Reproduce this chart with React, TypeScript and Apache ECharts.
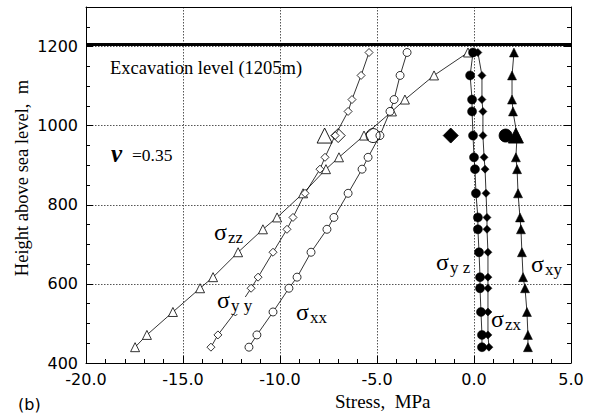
import React, { useEffect, useRef } from 'react';
import * as echarts from 'echarts';

// Heights (m) of the computed points
const heights = [1185, 1127, 1066, 1036, 975, 920, 890, 829, 768, 738, 680, 617, 589, 529, 471, 440];
// Computed stresses (MPa)
const sigmaZZ = [-0.31, -2.06, -3.56, -4.23, -5.67, -6.96, -7.63, -8.81, -10.15, -10.88, -12.16, -13.45, -14.12, -15.52, -16.86, -17.47];
const sigmaYY = [-5.41, -5.82, -6.29, -6.49, -7.16, -7.68, -7.94, -8.71, -9.33, -9.64, -10.36, -11.13, -11.49, -12.3, -13.2, -13.56];
const sigmaXX = [-3.45, -3.81, -4.12, -4.33, -4.85, -5.46, -5.77, -6.49, -7.22, -7.58, -8.4, -9.12, -9.54, -10.36, -11.19, -11.6];
const sigmaYZ = [-0.05, -0.2, -0.1, -0.1, -0.05, 0, 0.05, 0.1, 0.2, 0.2, 0.26, 0.31, 0.31, 0.36, 0.41, 0.41];
const sigmaZX = [0.2, 0.41, 0.41, 0.46, 0.46, 0.52, 0.57, 0.62, 0.67, 0.67, 0.72, 0.72, 0.72, 0.72, 0.72, 0.77];
const sigmaXY = [2.06, 1.96, 1.96, 2.01, 2.22, 2.16, 2.22, 2.27, 2.37, 2.42, 2.47, 2.53, 2.63, 2.73, 2.78, 2.78];

// Measured values at one level
const measuredHeight = 975;
const measuredZZ = -7.7;
const measuredYY = -7.0;
const measuredXX = -5.2;
const measuredYZ = 1.63;
const measuredZX = -1.2;
const measuredXY = 2.16;

const excavationLevel = 1205;

const xTicks = { min: -20, max: 5, interval: 5 };
const yTicks = { min: 400, max: 1300, interval: 200 };

const SERIF = '"Liberation Serif", "DejaVu Serif", serif';
const SANS = '"DejaVu Sans", "Open Sans", sans-serif';

const pairs = (xs: number[]) => xs.map((x, i) => [x, heights[i]]);

export default function App() {
  const ref = useRef<HTMLDivElement>(null);
  useEffect(() => {
    if (!ref.current) return;
    const chart = echarts.init(ref.current, null, { renderer: 'svg' });
    const lineSeries = (name: string, data: number[], symbol: string, size: number, filled: boolean) => ({
      name,
      type: 'line',
      data: pairs(data),
      symbol,
      symbolSize: size,
      showAllSymbol: true,
      lineStyle: { color: '#000', width: 0.8 },
      itemStyle: { color: filled ? '#000' : '#fff', borderColor: '#000', borderWidth: filled ? 0.5 : 0.8, opacity: 1 },
      z: 3,
    });
    const bigPoint = (name: string, x: number, symbol: string, size: number, filled: boolean) => ({
      name,
      type: 'scatter',
      data: [[x, measuredHeight]],
      symbol,
      symbolSize: size,
      itemStyle: { color: filled ? '#000' : 'rgba(255,255,255,0)', borderColor: '#000', borderWidth: 0.9, opacity: 1 },
      z: 4,
    });
    const sigma = (x: number, y: number, sub: string, bg = false) => [
      {
        type: 'text', left: x, top: y, z: 10,
        style: { text: 'σ', font: `24px ${SERIF}`, fill: '#000', backgroundColor: bg ? '#fff' : undefined },
      },
      {
        type: 'text', left: x + 14, top: y + 9, z: 10,
        style: { text: sub, font: `17px ${SERIF}`, fill: '#000', backgroundColor: bg ? '#fff' : undefined },
      },
    ];
    chart.setOption({
      animation: false,
      backgroundColor: '#fff',
      grid: { left: 86, right: 21, top: 7, bottom: 51, show: false },
      xAxis: [
        {
          type: 'value',
          min: xTicks.min,
          max: xTicks.max,
          interval: xTicks.interval,
          axisLine: { show: true, onZero: false, lineStyle: { color: '#000', width: 1 } },
          axisTick: { show: true, inside: true, length: 7, lineStyle: { color: '#000' } },
          minorTick: { show: true, splitNumber: 5, length: 4, lineStyle: { color: '#000' } },
          axisLabel: { color: '#000', fontFamily: SANS, fontSize: 16, margin: 8, formatter: (v: number) => v.toFixed(1) },
          splitLine: { show: true, lineStyle: { color: '#555', type: [1.5, 1.5], width: 1 } },
        },
        {
          type: 'value',
          position: 'top',
          min: xTicks.min,
          max: xTicks.max,
          interval: xTicks.interval,
          axisLine: { show: true, onZero: false, lineStyle: { color: '#000', width: 1 } },
          axisTick: { show: false },
          axisLabel: { show: false },
          splitLine: { show: false },
        },
      ],
      yAxis: [
        {
          type: 'value',
          min: yTicks.min,
          max: yTicks.max,
          interval: yTicks.interval,
          axisLine: { show: true, onZero: false, lineStyle: { color: '#000', width: 1 } },
          axisTick: { show: true, inside: true, length: 7, lineStyle: { color: '#000' } },
          minorTick: { show: true, splitNumber: 4, length: 4, lineStyle: { color: '#000' } },
          axisLabel: {
            color: '#000', fontFamily: SANS, fontSize: 16, margin: 8,
            formatter: (v: number) => (v % 200 === 0 && v <= 1200 ? String(v) : ''),
          },
          splitLine: { show: true, lineStyle: { color: '#555', type: [1.5, 1.5], width: 1 } },
        },
        {
          type: 'value',
          position: 'right',
          min: yTicks.min,
          max: yTicks.max,
          interval: yTicks.interval,
          axisLine: { show: true, onZero: false, lineStyle: { color: '#000', width: 1 } },
          axisTick: { show: true, inside: true, length: 7, lineStyle: { color: '#000' } },
          minorTick: { show: true, splitNumber: 4, length: 4, lineStyle: { color: '#000' } },
          axisLabel: { show: false },
          splitLine: { show: false },
        },
      ],
      series: [
        {
          ...lineSeries('σzz', sigmaZZ, 'triangle', 9, false),
          markLine: {
            silent: true,
            symbol: 'none',
            label: { show: false },
            lineStyle: { color: '#000', width: 3, type: 'solid' },
            data: [{ yAxis: excavationLevel }],
          },
        },
        lineSeries('σyy', sigmaYY, 'diamond', 8, false),
        lineSeries('σxx', sigmaXX, 'circle', 8, false),
        lineSeries('σyz', sigmaYZ, 'circle', 9, true),
        lineSeries('σzx', sigmaZX, 'diamond', 8, true),
        lineSeries('σxy', sigmaXY, 'triangle', 9, true),
        bigPoint('σzz measured', measuredZZ, 'triangle', 15, false),
        bigPoint('σyy measured', measuredYY, 'diamond', 14, false),
        bigPoint('σxx measured', measuredXX, 'circle', 14, false),
        bigPoint('σyz measured', measuredYZ, 'circle', 13, true),
        bigPoint('σzx measured', measuredZX, 'diamond', 15, true),
        bigPoint('σxy measured', measuredXY, 'triangle', 15, true),
      ],
      graphic: [
        { type: 'text', left: 110, top: 58, z: 10, style: { text: 'Excavation level (1205m)', font: `18.5px ${SERIF}`, fill: '#000' } },
        { type: 'text', left: 111, top: 141, z: 10, style: { text: 'ν', font: `italic bold 25px ${SERIF}`, fill: '#000' } },
        { type: 'text', left: 132, top: 146, z: 10, style: { text: '=0.35', font: `17.5px ${SERIF}`, fill: '#000' } },
        ...sigma(214, 220, 'zz'),
        ...sigma(217, 288, 'y y', true),
        ...sigma(296, 300, 'xx'),
        ...sigma(436, 250, 'y z'),
        ...sigma(491, 307, 'zx'),
        ...sigma(531, 252, 'xy'),
        {
          type: 'text', x: 22, y: 178, rotation: Math.PI / 2, z: 10,
          style: { text: 'Height above sea level,  m', font: `18.5px ${SERIF}`, fill: '#000', align: 'center', verticalAlign: 'middle' },
        },
        { type: 'text', left: 18, top: 396, z: 10, style: { text: '(b)', font: `16px ${SANS}`, fill: '#000' } },
        { type: 'text', left: 335, top: 392, z: 10, style: { text: 'Stress,  MPa', font: `19px ${SERIF}`, fill: '#000' } },
      ],
    });
    return () => chart.dispose();
  }, []);
  return <div ref={ref} style={{ position: 'absolute', left: 0, top: 0, width: 592, height: 414 }} />;
}
